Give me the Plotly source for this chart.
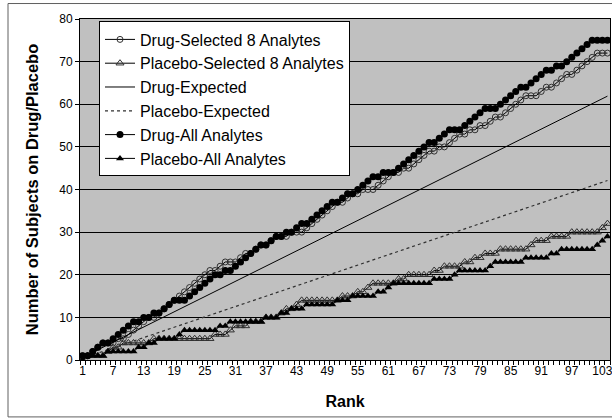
import plotly.graph_objects as go

ranks = list(range(1, 105))
tick_ranks = list(range(1, 105, 6))

drug_selected = [1, 1, 2, 3, 4, 4, 4, 5, 5, 6, 7, 8, 9, 10,
                 10, 11, 12, 13, 14, 15, 16, 17, 18, 19, 20, 21,
                 21, 22, 23, 23, 23, 24, 25, 25, 26, 27, 27, 28, 29, 29,
                 29, 30, 30, 30, 31, 32, 33, 34, 35, 36, 37, 37, 38, 39,
                 39, 40, 40, 40, 41, 42, 43, 44, 44, 45, 45, 46, 47, 48, 49,
                 49, 50, 50, 51, 52, 53, 53, 54, 54, 55, 55, 56, 57,
                 57, 58, 59, 60, 61, 62, 62, 62, 63, 64, 64, 65, 66, 67,
                 67, 68, 69, 70, 71, 72, 72, 72]
placebo_selected = [0, 1, 1, 1, 1, 2, 3, 3, 4, 4, 4, 4, 4, 4,
                    5, 5, 5, 5, 5, 5, 5, 5, 5, 5, 5, 5,
                    6, 6, 6, 7, 8, 8, 8, 9, 9, 9, 10, 10, 10, 11,
                    12, 12, 13, 14, 14, 14, 14, 14, 14, 14, 14, 15, 15, 15,
                    16, 16, 17, 18, 18, 18, 18, 18, 19, 19, 20, 20, 20, 20, 20,
                    21, 21, 22, 22, 22, 22, 23, 23, 24, 24, 25, 25, 25,
                    26, 26, 26, 26, 26, 26, 27, 28, 28, 28, 29, 29, 29, 29,
                    30, 30, 30, 30, 30, 30, 31, 32]
drug_all = [1, 1, 2, 3, 4, 4, 5, 6, 7, 8, 9, 9, 10, 10, 11,
            11, 12, 13, 14, 14, 14, 15, 16, 17, 18, 19, 20, 20, 21,
            21, 22, 23, 24, 25, 26, 27, 27, 28, 29, 29, 30, 30, 31, 32,
            32, 33, 34, 35, 36, 37, 37, 38, 39, 39, 40, 41, 42, 43,
            43, 44, 44, 44, 45, 46, 47, 48, 49, 50, 51, 51, 52, 53, 54,
            54, 54, 55, 56, 57, 58, 59, 59, 59, 60, 61, 62, 63, 64,
            64, 65, 66, 67, 68, 68, 69, 69, 70, 71, 72, 73, 74, 75,
            75, 75, 75]
placebo_all = [0, 1, 1, 1, 1, 2, 2, 2, 2, 2, 2, 3, 3, 4, 4,
               5, 5, 5, 5, 6, 7, 7, 7, 7, 7, 7, 7, 8, 8,
               9, 9, 9, 9, 9, 9, 9, 10, 10, 10, 11, 11, 12, 12, 12,
               13, 13, 13, 13, 13, 13, 14, 14, 14, 15, 15, 15, 15, 15,
               16, 16, 17, 18, 18, 18, 18, 18, 18, 18, 18, 19, 19, 19, 19,
               20, 21, 21, 21, 21, 21, 21, 22, 23, 23, 23, 23, 23, 23,
               24, 24, 24, 24, 24, 25, 25, 26, 26, 26, 26, 26, 26, 26,
               27, 28, 29]

expected_ranks = [1, 104]
drug_expected = [0.6, 61.9]
placebo_expected = [0.4, 42.1]

FONT = "Liberation Sans, Arial, sans-serif"

fig = go.Figure()
fig.add_trace(go.Scatter(x=ranks, y=drug_selected, name="Drug-Selected 8 Analytes",
                         mode="lines+markers", line=dict(color="black", width=1),
                         marker=dict(symbol="circle-open", size=6, color="#303030",
                                     line=dict(width=1))))
fig.add_trace(go.Scatter(x=ranks, y=placebo_selected, name="Placebo-Selected 8 Analytes",
                         mode="lines+markers", line=dict(color="black", width=1),
                         marker=dict(symbol="triangle-up-open", size=7, color="#303030",
                                     line=dict(width=1))))
fig.add_trace(go.Scatter(x=expected_ranks, y=drug_expected, name="Drug-Expected",
                         mode="lines", line=dict(color="black", width=1)))
fig.add_trace(go.Scatter(x=expected_ranks, y=placebo_expected, name="Placebo-Expected",
                         mode="lines", line=dict(color="#303030", width=1.2, dash="dot")))
fig.add_trace(go.Scatter(x=ranks, y=drug_all, name="Drug-All Analytes",
                         mode="lines+markers", line=dict(color="black", width=1),
                         marker=dict(symbol="circle", size=7, color="black")))
fig.add_trace(go.Scatter(x=ranks, y=placebo_all, name="Placebo-All Analytes",
                         mode="lines+markers", line=dict(color="black", width=1),
                         marker=dict(symbol="triangle-up", size=7, color="black")))

L, R, T, B = 80, 2, 18.5, 59
W, H = 612, 419
pw, ph = W - L - R, H - T - B

fig.update_layout(
    width=W, height=H,
    margin=dict(l=L, r=R, t=T, b=B, autoexpand=False),
    paper_bgcolor="white",
    plot_bgcolor="#C0C0C0",
    font=dict(family=FONT, size=12, color="black"),
    showlegend=True,
    legend=dict(x=(99 - L) / pw, y=(H - B - 21) / ph, xanchor="left", yanchor="top",
                bgcolor="white", bordercolor="black", borderwidth=1,
                font=dict(family=FONT, size=16, color="black"),
                tracegroupgap=0, itemwidth=30),
    xaxis=dict(range=[0.5, 104.5], tickmode="array", tickvals=tick_ranks,
               ticktext=[str(v) for v in tick_ranks], ticks="", showgrid=False,
               showline=True, linecolor="black", linewidth=1, mirror=True,
               tickfont=dict(size=12), zeroline=False, automargin=False,
               ticklabeloverflow="allow",
               minor=dict(tickmode="linear", tick0=0.5, dtick=1, ticks="outside",
                          ticklen=4, tickcolor="black", showgrid=False),
               title=dict(text="<b>Rank</b>", font=dict(size=16), standoff=18)),
    yaxis=dict(range=[0, 80], dtick=10, ticks="outside", ticklen=4, tickcolor="black",
               showgrid=True, gridcolor="black", gridwidth=1,
               showline=True, linecolor="black", linewidth=1, mirror=True,
               zeroline=False, tickfont=dict(size=12), automargin=False,
               title=dict(text="<b>Number of Subjects on Drug/Placebo</b>",
                          font=dict(size=16.5), standoff=16)),
)

fig.add_shape(type="rect", xref="paper", yref="paper",
              x0=(8 - L) / pw, x1=(616 - L) / pw,
              y0=(H - B - 417) / ph, y1=(H - B - 3) / ph,
              line=dict(color="#606060", width=1), fillcolor="rgba(0,0,0,0)", layer="below")

fig.write_html("out.html", config={"displayModeBar": False},
               post_script="document.body.style.margin='0';document.body.style.padding='0';")
